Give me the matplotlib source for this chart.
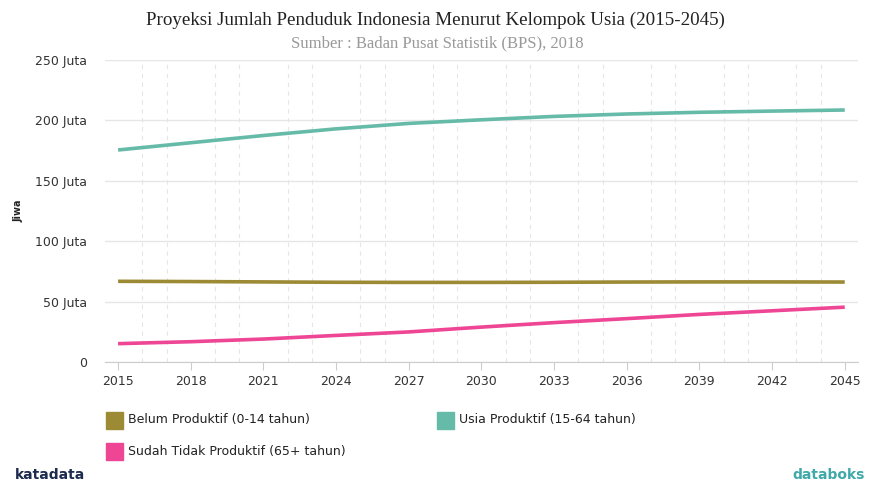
import matplotlib.pyplot as plt
from matplotlib.ticker import MultipleLocator, FuncFormatter

years = [2015, 2018, 2021, 2024, 2027, 2030, 2033, 2036, 2039, 2042, 2045]
belum_produktif = [66.8, 66.6, 66.3, 66.0, 65.9, 65.9, 66.0, 66.2, 66.3, 66.3, 66.2]
usia_produktif = [175.5, 181.5, 187.5, 193.0, 197.5, 200.5, 203.3, 205.3, 206.7, 207.7, 208.6]
tidak_produktif = [15.2, 16.8, 19.0, 22.0, 24.9, 28.9, 32.6, 35.9, 39.4, 42.4, 45.4]

labels = ['Belum Produktif (0-14 tahun)', 'Usia Produktif (15-64 tahun)',
          'Sudah Tidak Produktif (65+ tahun)']
colors = ['#9c8a35', '#66bba8', '#ee4595']

fig = plt.figure(figsize=(8.7, 4.83), dpi=100)
ax = fig.add_axes([0.1207, 0.2505, 0.8653, 0.6253])

for vals, c in zip([belum_produktif, usia_produktif, tidak_produktif], colors):
    ax.plot(years, vals, color=c, lw=2.6, solid_capstyle='butt')

ax.set_xlim(2014.46, 2045.54)
ax.set_ylim(0, 250)
ax.set_xticks(years)
ax.xaxis.set_minor_locator(MultipleLocator(1))
ax.yaxis.set_major_locator(MultipleLocator(50))
ax.yaxis.set_major_formatter(FuncFormatter(lambda v, p: '0' if v == 0 else '%d Juta' % v))

ax.grid(axis='y', which='major', color='#e6e6e6', lw=1)
ax.grid(axis='x', which='minor', color='#e6e6e6', lw=0.8, ls=(0, (4, 4)))
ax.set_axisbelow(True)

for s in ['top', 'right', 'left']:
    ax.spines[s].set_visible(False)
ax.spines['bottom'].set_color('#cccccc')
ax.tick_params(axis='x', which='major', length=6, color='#cccccc', labelsize=9,
               labelcolor='#333333', pad=3)
ax.tick_params(axis='x', which='minor', length=0)
ax.tick_params(axis='y', length=0, labelsize=9, labelcolor='#333333', pad=13)

ax.set_ylabel('Jiwa', fontsize=7, fontweight='bold', color='#222222', labelpad=8)

fig.text(0.5, 0.957, 'Proyeksi Jumlah Penduduk Indonesia Menurut Kelompok Usia (2015-2045)',
         ha='center', va='center', family='Liberation Serif', fontsize=13.7, color='#222222')
fig.text(0.503, 0.911, 'Sumber : Badan Pusat Statistik (BPS), 2018',
         ha='center', va='center', family='Liberation Serif', fontsize=12, color='#999999')

# legend
leg_pos = [(106, 420), (437, 420), (106, 451)]
for (px, py), c, lab in zip(leg_pos, colors, labels):
    fig.patches.append(plt.Rectangle(((px) / 870, 1 - (py + 9) / 483), 17 / 870, 17 / 483,
                                     transform=fig.transFigure, color=c, figure=fig))
    fig.text((px + 22) / 870, 1 - py / 483, lab, ha='left', va='center',
             fontsize=9, color='#222222')

# footer logos
fig.text(15 / 870, 0.003, 'katadata', ha='left', va='bottom', fontsize=10,
         fontweight='bold', color='#1d2b4f')
fig.text(792 / 870, 0.003, 'databoks', ha='left', va='bottom', fontsize=10,
         fontweight='bold', color='#3fa8a8')

fig.savefig('out.png', dpi=100, facecolor='white')
